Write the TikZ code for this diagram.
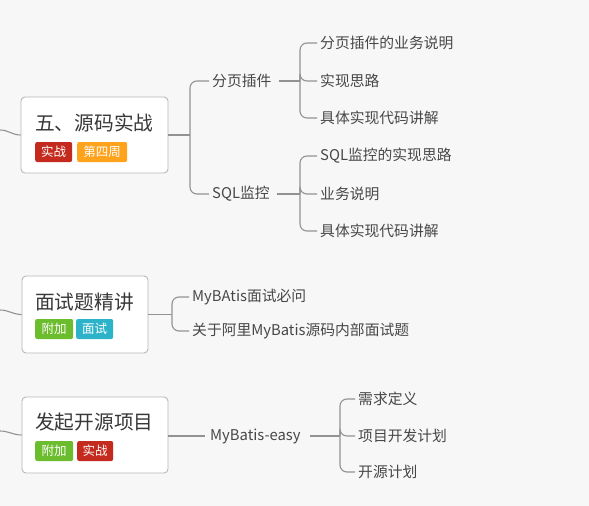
\documentclass[tikz,border=0pt]{standalone}
\usepackage{fontspec}
\setmainfont{Noto Sans CJK SC}
\definecolor{bg}{HTML}{F7F7F7}
\definecolor{linegray}{HTML}{929292}
\definecolor{boxgray}{HTML}{B8B8B8}
\definecolor{titlec}{HTML}{383838}
\definecolor{textc}{HTML}{474747}
\definecolor{tagred}{HTML}{C42B1E}
\definecolor{tagorange}{HTML}{FFA21C}
\definecolor{taggreen}{HTML}{6CBD2D}
\definecolor{tagteal}{HTML}{2CB3C9}
\begin{document}
\begin{tikzpicture}[x=1pt,y=-1pt,
  line/.style={draw=linegray,line width=1.1pt},
  br/.style={line,rounded corners=7pt},
  box/.style={draw=boxgray,line width=0.9pt,fill=white,rounded corners=4pt,inner sep=0pt},
  title/.style={font=\fontsize{19.7}{22}\selectfont,text=titlec,inner sep=0pt,anchor=west},
  tag/.style={rounded corners=2pt,text=white,font=\fontsize{12.5}{14}\selectfont,minimum height=20pt,inner sep=0pt,anchor=west},
  lbl/.style={font=\fontsize{14.8}{17}\selectfont,text=textc,inner sep=3pt,anchor=west},
  outline/.style={line,shorten <=4pt}]
\fill[bg] (0,0) rectangle (589,506);
\useasboundingbox (0,0) rectangle (589,506);

% left incoming coordinates
\coordinate (L1) at (0,130);
\coordinate (L2) at (0,310);
\coordinate (L3) at (0,431);

% ---------- Box 1 ----------
\node[box,minimum width=147pt,minimum height=76pt] (b1) at (94.5,135) {};
\node[title] (t1) at (35,123) {五、源码实战};
\node[tag,fill=tagred,minimum width=37pt] (g1a) at (35,152) {实战};
\node[tag,fill=tagorange,minimum width=50pt] (g1b) at (77,152) {第四周};
\draw[line] (L1) to[out=0,in=180] (b1.west);

\coordinate (j1) at (190,135);
\draw[line] (b1.east) -- (j1);
\node[lbl] (c1) at (209,81) {分页插件};
\node[lbl] (c2) at (209,194) {SQL监控};
\draw[br] (j1) |- (c1.west);
\draw[br] (j1) |- (c2.west);

\coordinate (j2) at (300,81);
\coordinate (j3) at (300,194);
\draw[outline] (c1.east) -- (j2);
\draw[outline] (c2.east) -- (j3);
\node[lbl] (l1) at (317,43) {分页插件的业务说明};
\node[lbl] (l2) at (317,81) {实现思路};
\node[lbl] (l3) at (317,118) {具体实现代码讲解};
\node[lbl] (l4) at (317,156) {SQL监控的实现思路};
\node[lbl] (l5) at (317,194) {业务说明};
\node[lbl] (l6) at (317,231) {具体实现代码讲解};
\draw[br] (j2) |- (l1.west);
\draw[br] (j2) |- (l2.west);
\draw[br] (j2) |- (l3.west);
\draw[br] (j3) |- (l4.west);
\draw[br] (j3) |- (l5.west);
\draw[br] (j3) |- (l6.west);

% ---------- Box 2 ----------
\node[box,minimum width=126pt,minimum height=77pt] (b2) at (85,314.5) {};
\node[title] (t2) at (35,302) {面试题精讲};
\node[tag,fill=taggreen,minimum width=38pt] (g2a) at (35,329) {附加};
\node[tag,fill=tagteal,minimum width=37pt] (g2b) at (76,329) {面试};
\draw[line] (L2) to[out=0,in=180] (b2.west);

\coordinate (j4) at (172,314.5);
\draw[line] (b2.east) -- (j4);
\node[lbl] (m1) at (189,297) {MyBAtis面试必问};
\node[lbl] (m2) at (189,331) {关于阿里MyBatis源码内部面试题};
\draw[br] (j4) |- (m1.west);
\draw[br] (j4) |- (m2.west);

% ---------- Box 3 ----------
\node[box,minimum width=146pt,minimum height=76pt] (b3) at (95,435) {};
\node[title] (t3) at (35,422) {发起开源项目};
\node[tag,fill=taggreen,minimum width=38pt] (g3a) at (35,451) {附加};
\node[tag,fill=tagred,minimum width=36pt] (g3b) at (77,451) {实战};
\draw[line] (L3) to[out=0,in=180] (b3.west);

\node[lbl,inner sep=5pt] (n1) at (205,436) {MyBatis-easy};
\draw[line] (b3.east |- n1.west) -- (n1.west);
\coordinate (j5) at (340,436);
\draw[outline] (n1.east) -- (j5);
\node[lbl] (p1) at (355,399) {需求定义};
\node[lbl] (p2) at (355,436) {项目开发计划};
\node[lbl] (p3) at (355,472) {开源计划};
\draw[br] (j5) |- (p1.west);
\draw[br] (j5) |- (p2.west);
\draw[br] (j5) |- (p3.west);
\end{tikzpicture}
\end{document}
